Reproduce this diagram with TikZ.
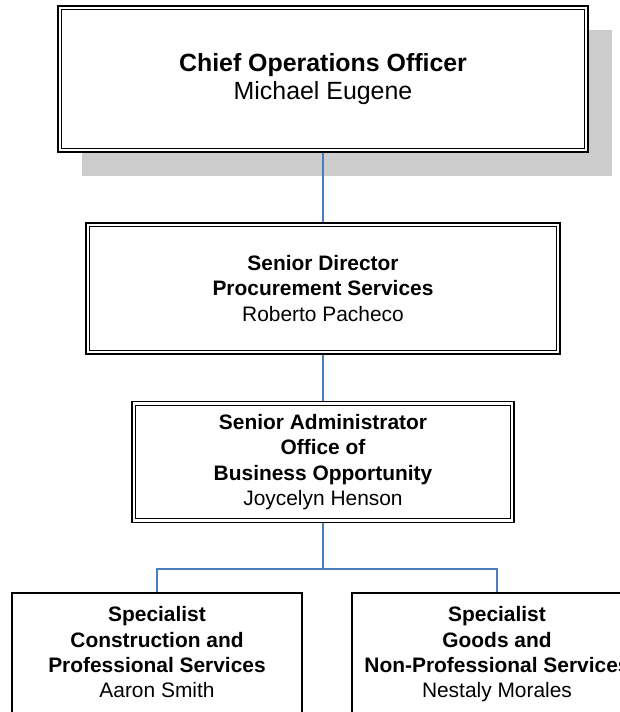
\documentclass[tikz,border=0pt]{standalone}
\usepackage{fontspec}
\setmainfont{Liberation Sans}
\usepackage{tikz}
\usetikzlibrary{shadows}
\definecolor{orgblue}{RGB}{74, 126, 187}
\definecolor{orggray}{RGB}{204, 204, 204}

\begin{document}
\begin{tikzpicture}[
    x=1bp, y=-1bp,
    post/.style={rectangle, draw=black, fill=white, line width=1.8bp,
                 align=center, inner sep=0pt,
                 font=\fontsize{21}{25.5}\selectfont},
    leaf/.style={rectangle, draw=black, fill=white, line width=1.1bp,
                 align=center, inner sep=0pt,
                 minimum width=290bp, minimum height=126bp,
                 font=\fontsize{21}{25.5}\selectfont},
    rim/.style={line width=0.9bp},
    conn/.style={draw=orgblue, line width=1.3bp},
  ]

  \useasboundingbox (0,0) rectangle (620,712);
  \clip (0,0) rectangle (620,712);

  % ── Top level ────────────────────────────────────
  \node[post, minimum width=530bp, minimum height=146bp,
        font=\fontsize{25}{28}\selectfont,
        drop shadow={shadow xshift=24bp, shadow yshift=-24bp,
                     fill=orggray, opacity=1}] (coo) at (323, 79)
        {\textbf{Chief Operations Officer}\\Michael Eugene};

  % ── Middle levels ────────────────────────────────
  \node[post, minimum width=474bp, minimum height=131bp] (sdir) at (323, 288.5)
        {\textbf{Senior Director}\\\textbf{Procurement Services}\\Roberto Pacheco};

  \node[post, minimum width=382bp, minimum height=121bp] (sadm) at (323, 462)
        {\textbf{Senior Administrator}\\\textbf{Office of}\\
         \textbf{Business Opportunity}\\Joycelyn Henson};

  % inner rims of the double frames
  \foreach \n in {coo, sdir, sadm}
    \draw[rim] ([shift={(4.5bp,-4.5bp)}]\n.north west)
          rectangle ([shift={(-4.5bp,4.5bp)}]\n.south east);

  % ── Specialists ──────────────────────────────────
  \node[leaf] (cps) at (157, 656)
        {\textbf{Specialist}\\\textbf{Construction and}\\
         \textbf{Professional Services}\\Aaron Smith\strut};
  \node[leaf] (nps) at (497, 656)
        {\textbf{Specialist}\\\textbf{Goods and}\\
         \textbf{Non-Professional Services}\\Nestaly Morales\strut};

  % ── Connectors ───────────────────────────────────
  \coordinate (split) at (323, 569);

  \draw[conn] (coo)  -- (sdir);
  \draw[conn] (sdir) -- (sadm);
  \draw[conn] (sadm) -- (split);
  \draw[conn] (split) -| (cps.north);
  \draw[conn] (split) -| (nps.north);

\end{tikzpicture}
\end{document}
